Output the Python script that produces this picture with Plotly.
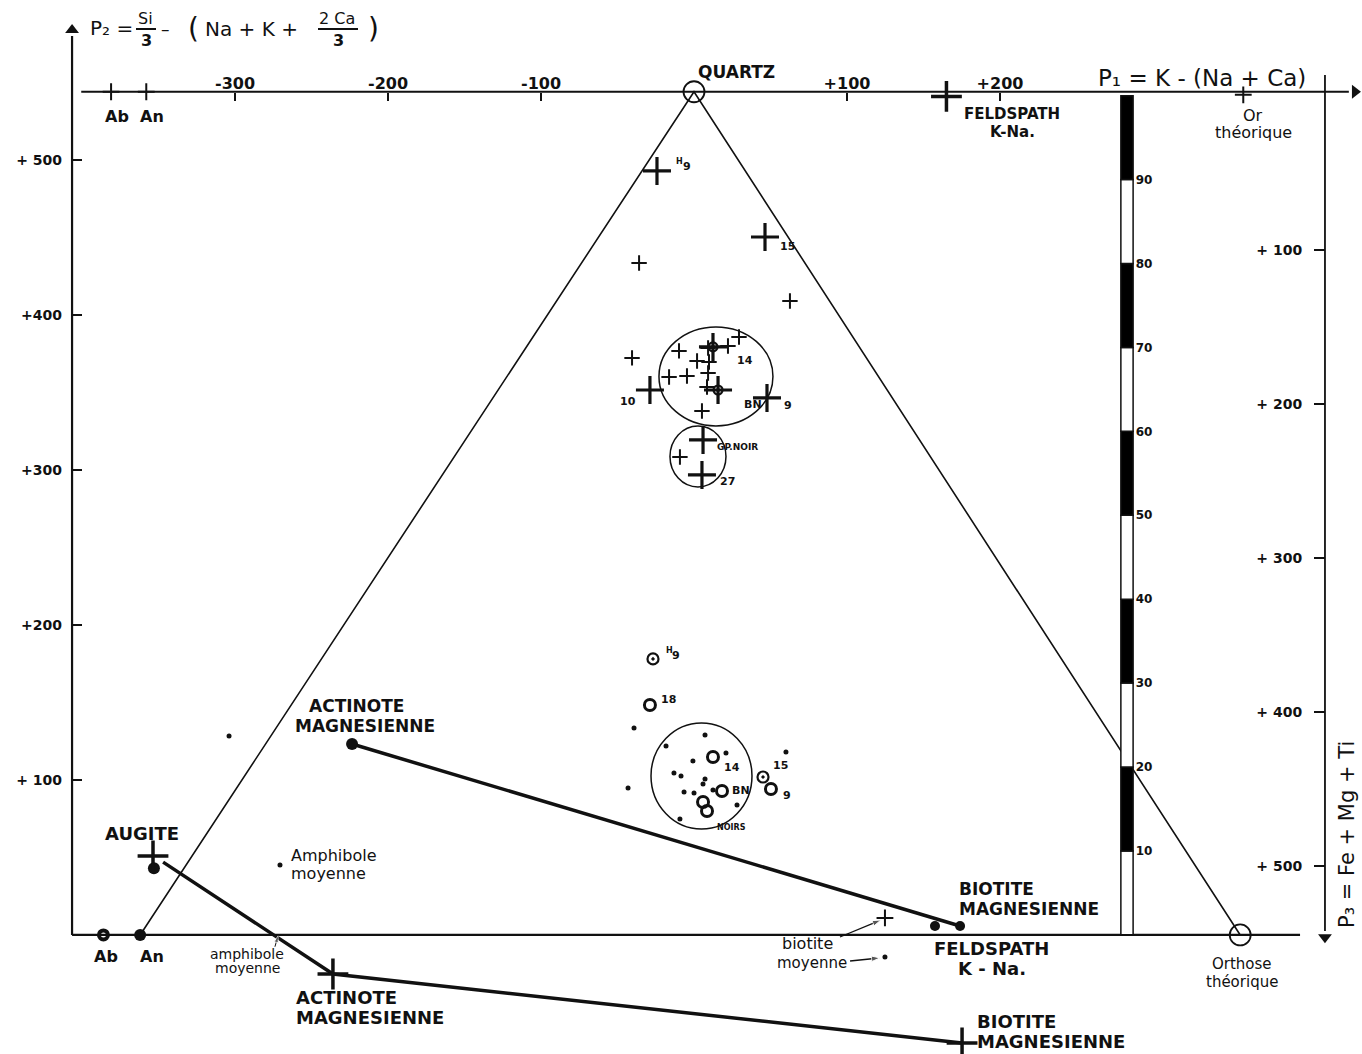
import plotly.graph_objects as go

W, H = 1362, 1054
INK = "#111111"
FONT = "DejaVu Sans"

# Drawing ranges: P1 horizontal, P2 vertical (upper projection)
X_RANGE = [-453.6, 436.6]
Y_RANGE = [-76.8, 603.2]
# P3 scale on the right, growing downward
P3_RANGE = [622.1, -62.3]
# percentage bar scale
BAR_RANGE = [-14.2, 111.4]

# ---------------- axis ticks ----------------
p1_ticks = [-300, -200, -100, 100, 200]
p1_ticktext = ["-300", "-200", "-100", "+100", "+200"]
p2_ticks = [100, 200, 300, 400, 500]
p2_ticktext = ["+ 100", "+200", "+300", "+400", "+ 500"]
p3_ticks = [100, 200, 300, 400, 500]
p3_ticktext = ["+ 100", "+ 200", "+ 300", "+ 400", "+ 500"]
bar_ticks = [10, 20, 30, 40, 50, 60, 70, 80, 90]
bar_ticktext = ["10", "20", "30", "40", "50", "60", "70", "80", "90"]

# percentage bar: ten 10 % segments
bar_base = [0, 10, 20, 30, 40, 50, 60, 70, 80, 90]
bar_len = [10, 10, 10, 10, 10, 10, 10, 10, 10, 10]
bar_fill = ["white", "black", "white", "black", "white",
            "black", "white", "black", "white", "black"]
BAR_P1 = 283

# ---------------- reference minerals ----------------
P2_AXIS = 544                    # level of the P1 axis
quartz = (0, 544)
orthose = (357, 0)
ab_base = (-386, 0)
an_base = (-362, 0)
ab_top = (-381, 544)
an_top = (-358, 544)
feld_top = (165, 541)
or_top = (359, 542)

augite_cross = (-353.6, 51)
augite_dot = (-353, 43)
amph_dot = (-270.6, 45.2)
lone_dot = (-303.9, 128.4)
actinote_dot = (-223.5, 123.2)
biotite_dot = (173.9, 5.8)
feld_dot = (157.5, 5.8)

# lower tie line augite - actinote - biotite
tie_p1 = [-347, -236, 175.2]
tie_p2 = [47, -25.2, -69.7]
actinote_cross = (-236, -25.2)
biotite_cross = (175.2, -69.7)
biot_moy_cross = (124.8, 11)
biot_moy_dot = (124.8, -14.2)
amph_base_mark = (-271.9, -0.6)

# ---------------- rock analyses, upper projection ----------------
big_cross_p1 = [-24.2, 46.4, 12.4, -28.8, 15.7, 47.7, 5.9, 5.2]
big_cross_p2 = [492.9, 450.3, 379.4, 351.6, 351.6, 346.5, 319.4, 296.8]
big_cross_lbl = ["9", "15", "14", "10", "BN", "9", "GP.NOIR", "27"]
big_cross_dx = [24, 13, 22, -12, 24, 15, 12, 16]
big_cross_dy = [4, -9, -14, -12, -15, -8, -7, -7]
big_cross_anchor = ["left", "left", "left", "right", "left", "left", "left", "left"]

ringed_cross_p1 = [12.4, 15.7]
ringed_cross_p2 = [379.4, 351.6]

small_cross_p1 = [-35.9, 62.7, -40.5, -9.8, 9.2, 22.2, 29.4, 2.0, 9.8,
                  -16.3, -4.6, 9.2, 8.5, 5.2, -9.2]
small_cross_p2 = [433.5, 409.0, 372.3, 376.8, 378.7, 380.0, 385.8, 370.3, 369.7,
                  360.0, 360.6, 362.6, 353.5, 338.0, 308.4]

# ---------------- rock analyses, lower projection ----------------
ring_dot_p1 = [-26.8, 45.1]
ring_dot_p2 = [178.1, 101.9]
ring_dot_lbl = ["9", "15"]
ring_dot_dx = [17, 8]
ring_dot_dy = [3, 12]

ring_p1 = [-28.8, 12.4, 18.3, 50.3, 5.9, 8.5]
ring_p2 = [148.4, 114.8, 92.9, 94.2, 85.8, 80.0]
ring_lbl = ["18", "14", "BN", "9", "", "NOIRS"]
ring_dx = [9, 9, 8, 10, 0, 8]
ring_dy = [5, -10, 0, -7, 0, -17]

dot_p1 = [-39.2, 7.2, -18.3, 20.9, -0.7, -13.1, -8.5, 7.2, 5.9,
          -43.1, -6.5, 0.0, 12.4, 28.1, -9.2, 60.1]
dot_p2 = [133.5, 129.0, 121.9, 117.4, 112.3, 104.5, 102.6, 100.6, 97.4,
          94.8, 92.3, 91.6, 93.5, 83.9, 74.8, 118.1]

# grouping outlines (P1 min, P1 max, P2 min, P2 max)
groups = [(-22.9, 51.6, 328.4, 392.3),
          (-15.7, 20.9, 289.0, 328.4),
          (-28.1, 37.9, 68.4, 136.8)]

# axis line extents
AX_LEFT_P1 = -406.5
AX_TOP_P2 = 583.9
AX_RIGHT_END_P1 = 432.0
BASE_END_P1 = 396.1
P3_AXIS_P1 = 412.4
P3_AXIS_TOP = 554.8
P3_AXIS_BOTTOM = -1.5


def xf(p1):
    return (p1 - X_RANGE[0]) / (X_RANGE[1] - X_RANGE[0])


def yf(p2):
    return (p2 - Y_RANGE[0]) / (Y_RANGE[1] - Y_RANGE[0])


def lines(xs, ys, width):
    return go.Scatter(x=xs, y=ys, mode="lines", line=dict(color=INK, width=width),
                      hoverinfo="skip", showlegend=False)


def marks(xs, ys, symbol, size, lw=0, fill=INK):
    return go.Scatter(x=xs, y=ys, mode="markers", hoverinfo="skip", showlegend=False,
                      cliponaxis=False,
                      marker=dict(symbol=symbol, size=size, color=fill,
                                  line=dict(color=INK, width=lw)))


def pointer(xs, ys, width=1.3, head=8):
    # a thin line ending in an arrowhead oriented along its last segment
    return go.Scatter(x=xs, y=ys, mode="lines+markers", hoverinfo="skip", showlegend=False,
                      cliponaxis=False, line=dict(color=INK, width=width),
                      marker=dict(symbol="arrow", angleref="previous", color=INK,
                                  size=[0] * (len(xs) - 1) + [head]))


fig = go.Figure()

# percentage bar
fig.add_trace(go.Bar(x=[BAR_P1] * len(bar_len), y=bar_len, base=bar_base, width=8,
                     marker=dict(color=bar_fill, line=dict(color=INK, width=1.5)),
                     yaxis="y3", hoverinfo="skip", showlegend=False))

# drawn axes with their arrowheads
fig.add_trace(lines([AX_LEFT_P1, AX_LEFT_P1], [0, AX_TOP_P2 - 4], 2.2))
fig.add_trace(lines([AX_LEFT_P1 + 6, AX_RIGHT_END_P1 - 4], [P2_AXIS, P2_AXIS], 2.2))
fig.add_trace(lines([P3_AXIS_P1, P3_AXIS_P1], [P3_AXIS_TOP, P3_AXIS_BOTTOM + 4], 1.8))
fig.add_trace(marks([AX_LEFT_P1], [AX_TOP_P2], "triangle-up", 12))
fig.add_trace(marks([AX_RIGHT_END_P1], [P2_AXIS], "triangle-right", 12))
fig.add_trace(marks([P3_AXIS_P1], [P3_AXIS_BOTTOM], "triangle-down", 12))

# triangle Quartz - An - Orthose
fig.add_trace(lines([an_base[0], quartz[0], orthose[0]], [an_base[1], quartz[1], orthose[1]], 1.6))
# P1 axis at the base of the triangle
fig.add_trace(lines([AX_LEFT_P1, BASE_END_P1], [0, 0], 2.2))
# tie lines
fig.add_trace(lines([actinote_dot[0], biotite_dot[0]], [actinote_dot[1], biotite_dot[1]], 3.5))
fig.add_trace(lines(tie_p1, tie_p2, 3.5))

# small pointers to the "moyenne" compositions
fig.add_trace(pointer([biot_moy_cross[0] - 29.4, biot_moy_cross[0] - 2.6],
                      [biot_moy_cross[1] - 12.3, biot_moy_cross[1] - 1.3], head=9))
fig.add_trace(pointer([biot_moy_dot[0] - 22.8, biot_moy_dot[0] - 3.2],
                      [biot_moy_dot[1] - 2.6, biot_moy_dot[1] - 0.6], head=9))
fig.add_trace(pointer([amph_base_mark[0] - 2, amph_base_mark[0]],
                      [amph_base_mark[1] - 7, amph_base_mark[1]], width=1, head=7))

# outlines around sample groups
shapes = []
for x0, x1, y0, y1 in groups:
    shapes.append(dict(type="circle", xref="x", yref="y", x0=x0, x1=x1, y0=y0, y1=y1,
                       line=dict(color=INK, width=1.5)))

# analyses
fig.add_trace(marks(big_cross_p1, big_cross_p2, "cross-thin", 20, 3.2))
fig.add_trace(marks(small_cross_p1, small_cross_p2, "cross-thin", 11, 2))
fig.add_trace(marks(ringed_cross_p1, ringed_cross_p2, "circle-open", 9, 2.2))
fig.add_trace(marks(ring_dot_p1, ring_dot_p2, "circle-open-dot", 11, 2.2))
fig.add_trace(marks(ring_p1, ring_p2, "circle-open", 11, 3))
fig.add_trace(marks(dot_p1, dot_p2, "circle", 5))

# minerals
fig.add_trace(marks([quartz[0], orthose[0]], [quartz[1], orthose[1]], "circle-open", 21, 1.8))
fig.add_trace(marks([ab_base[0]], [ab_base[1]], "circle-open", 9, 4))
fig.add_trace(marks([an_base[0], augite_dot[0], actinote_dot[0]],
                    [an_base[1], augite_dot[1], actinote_dot[1]], "circle", 12))
fig.add_trace(marks([biotite_dot[0], feld_dot[0]], [biotite_dot[1], feld_dot[1]], "circle", 10))
fig.add_trace(marks([amph_dot[0], lone_dot[0], biot_moy_dot[0]],
                    [amph_dot[1], lone_dot[1], biot_moy_dot[1]], "circle", 5))
fig.add_trace(marks([ab_top[0], an_top[0], or_top[0], biot_moy_cross[0]],
                    [ab_top[1], an_top[1], or_top[1], biot_moy_cross[1]], "cross-thin", 12, 2))
fig.add_trace(marks([feld_top[0], augite_cross[0], actinote_cross[0], biotite_cross[0]],
                    [feld_top[1], augite_cross[1], actinote_cross[1], biotite_cross[1]],
                    "cross-thin", 22, 3.5))

ann = []


def label(x, y, text, dx=0, dy=0, size=14, anchor="center", weight="normal"):
    ann.append(dict(x=x, y=y, xref="x", yref="y", text=text, showarrow=False,
                    xshift=dx, yshift=dy, xanchor=anchor, yanchor="middle",
                    font=dict(family=FONT, size=size, color=INK, weight=weight)))


def label2(x, y, top, bottom, dx, dy, size, anchor="center", weight="normal", gap=None):
    # two-line caption: each line is its own text
    g = gap if gap is not None else size * 1.25
    label(x, y, top, dx, dy + g / 2, size, anchor, weight)
    label(x, y, bottom, dx, dy - g / 2, size, anchor, weight)


def note(px, py, text, size=14, anchor="center", angle=0, weight="normal"):
    ann.append(dict(x=px / W, y=1 - py / H, xref="paper", yref="paper", text=text,
                    showarrow=False, xanchor=anchor, yanchor="middle", textangle=angle,
                    font=dict(family=FONT, size=size, color=INK, weight=weight)))


# point labels
for x, y, t, dx, dy, a in zip(big_cross_p1, big_cross_p2, big_cross_lbl,
                              big_cross_dx, big_cross_dy, big_cross_anchor):
    label(x, y, t, dx, dy, size=11 if t != "GP.NOIR" else 9, anchor=a, weight="bold")
for x, y, t, dx, dy in zip(ring_dot_p1, ring_dot_p2, ring_dot_lbl, ring_dot_dx, ring_dot_dy):
    label(x, y, t, dx, dy, size=11, anchor="left", weight="bold")
for x, y, t, dx, dy in zip(ring_p1, ring_p2, ring_lbl, ring_dx, ring_dy):
    if t:
        label(x, y, t, dx, dy, size=11 if t != "NOIRS" else 8, anchor="left", weight="bold")
# small raised "H" of the H9 sample, in both projections
label(big_cross_p1[0], big_cross_p2[0], "H", 17, 9, size=8, anchor="left", weight="bold")
label(ring_dot_p1[0], ring_dot_p2[0], "H", 11, 8, size=8, anchor="left", weight="bold")

B = "bold"
# mineral names
label(*quartz, "QUARTZ", 42, 20, size=17, weight=B)
label2(*feld_top, "FELDSPATH", "K-Na.", 66, -27, size=15, weight=B, gap=18)
label2(*or_top, "Or", "théorique", 10, -29, size=16, gap=17)
label(*ab_top, "Ab", 6, -25, size=16, weight=B)
label(*an_top, "An", 6, -25, size=16, weight=B)
label(*actinote_dot, "ACTINOTE", 4, 38, size=17, weight=B)
label(*actinote_dot, "MAGNESIENNE", 13, 18, size=17, weight=B)
label(*augite_cross, "AUGITE", -11, 22, size=18, weight=B)
label2(*amph_dot, "Amphibole", "moyenne", 9, 0, size=16, anchor="left", gap=18)
label(*ab_base, "Ab", 3, -22, size=16, weight=B)
label(*an_base, "An", 12, -22, size=16, weight=B)
label2(*actinote_cross, "ACTINOTE", "MAGNESIENNE", -39, -33, size=18, anchor="left",
       weight=B, gap=20)
label2(*biotite_dot, "BIOTITE", "MAGNESIENNE", -3, 27, size=17, anchor="left", weight=B, gap=20)
label2(*feld_dot, "FELDSPATH", "K - Na.", 57, -33, size=18, weight=B, gap=20)
label(*biot_moy_cross, "biotite", -77, -26, size=16)
label(*biot_moy_dot, "moyenne", -73, -6, size=15)
label2(*orthose, "Orthose", "théorique", 2, -38, size=15, gap=18)
label2(*biotite_cross, "BIOTITE", "MAGNESIENNE", 13, 12, size=18, anchor="left", weight=B, gap=20)
note(247, 954, "amphibole", size=14)
note(247, 968, "moyenne", size=14)

# axis titles
note(88, 28, "P₂ =", size=20, anchor="left")
note(145, 18, "Si", size=16)
note(146, 40, "3", size=16, weight=B)
note(165, 29, "–", size=17)
note(186, 29, "(", size=28, anchor="left")
note(203, 29, "Na + K +", size=20, anchor="left")
note(337, 18, "2 Ca", size=16)
note(338, 40, "3", size=16, weight=B)
note(366, 29, ")", size=28, anchor="left")
shapes.append(dict(type="line", xref="paper", yref="paper", x0=136 / W, x1=156 / W,
                   y0=1 - 29 / H, y1=1 - 29 / H, line=dict(color=INK, width=2)))
shapes.append(dict(type="line", xref="paper", yref="paper", x0=318 / W, x1=358 / W,
                   y0=1 - 29 / H, y1=1 - 29 / H, line=dict(color=INK, width=2)))
note(1202, 78, "P₁ = K - (Na + Ca)", size=23)
note(1347, 835, "P₃ = Fe + Mg + Ti", size=21, angle=-90)

tick_font = dict(family=FONT, size=14, color=INK, weight="bold")
fig.update_layout(
    width=W, height=H, margin=dict(l=0, r=0, t=0, b=0),
    paper_bgcolor="white", plot_bgcolor="white", showlegend=False,
    barmode="overlay", shapes=shapes, annotations=ann,
    xaxis=dict(range=X_RANGE, domain=[0, 1], anchor="free", position=yf(P2_AXIS),
               side="top", showline=False, showgrid=False, zeroline=False,
               ticks="inside", ticklen=8, tickwidth=2, tickcolor=INK,
               tickvals=p1_ticks, ticktext=p1_ticktext,
               tickfont=dict(family=FONT, size=16, color=INK, weight="bold")),
    yaxis=dict(range=Y_RANGE, domain=[0, 1], anchor="free", position=xf(AX_LEFT_P1),
               side="left", showline=False, showgrid=False, zeroline=False,
               ticks="inside", ticklen=9, tickwidth=2, tickcolor=INK, ticklabelstandoff=10,
               tickvals=p2_ticks, ticktext=p2_ticktext, tickfont=tick_font),
    yaxis2=dict(range=P3_RANGE, overlaying="y", anchor="free", position=xf(P3_AXIS_P1),
                side="left", showline=False, showgrid=False, zeroline=False,
                ticks="outside", ticklen=11, tickwidth=2, tickcolor=INK, ticklabelstandoff=9,
                tickvals=p3_ticks, ticktext=p3_ticktext, tickfont=tick_font),
    yaxis3=dict(range=BAR_RANGE, overlaying="y", anchor="free", position=xf(BAR_P1 + 5),
                side="right", showline=False, showgrid=False, zeroline=False, ticks="",
                tickvals=bar_ticks, ticktext=bar_ticktext,
                tickfont=dict(family=FONT, size=12, color=INK, weight="bold")),
)
# keep the P3 axis drawn by attaching an empty trace to it
fig.add_trace(go.Scatter(x=[None], y=[None], yaxis="y2", showlegend=False, hoverinfo="skip"))

fig.write_html("out.html")
